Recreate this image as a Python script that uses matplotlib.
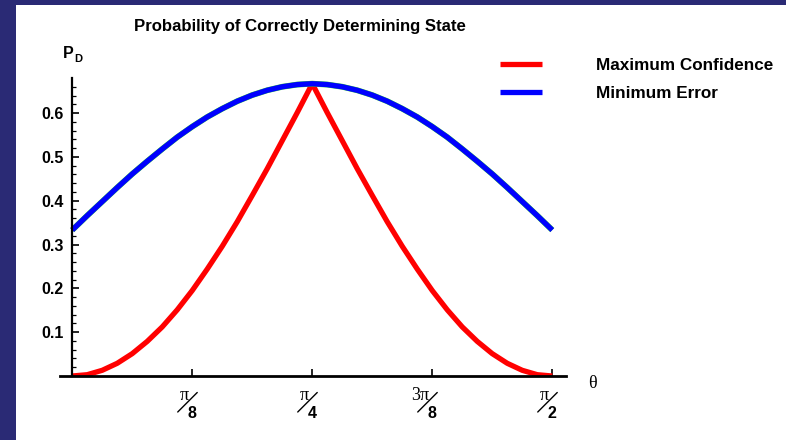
import numpy as np
import matplotlib
matplotlib.use("Agg")
import matplotlib.pyplot as plt
from matplotlib.patches import Rectangle
from matplotlib.transforms import ScaledTranslation

theta_steps = list(range(0, 33))
max_confidence = [0.0, 0.003, 0.013, 0.029, 0.051, 0.079, 0.112, 0.151, 0.195,
                  0.244, 0.296, 0.352, 0.412, 0.473, 0.537, 0.601, 0.667,
                  0.601, 0.537, 0.473, 0.412, 0.352, 0.296, 0.244, 0.195,
                  0.151, 0.112, 0.079, 0.051, 0.029, 0.013, 0.003, 0.0]
min_error = [0.333, 0.366, 0.398, 0.430, 0.461, 0.490, 0.518, 0.545, 0.569,
             0.591, 0.610, 0.627, 0.641, 0.652, 0.660, 0.665, 0.667,
             0.665, 0.660, 0.652, 0.641, 0.627, 0.610, 0.591, 0.569,
             0.545, 0.518, 0.490, 0.461, 0.430, 0.398, 0.366, 0.333]

tick_nums = ["\u03c0", "\u03c0", "3\u03c0", "\u03c0"]
tick_dens = ["8", "4", "8", "2"]
tick_pos = [np.pi / 8, np.pi / 4, 3 * np.pi / 8, np.pi / 2]

theta = np.array(theta_steps) * np.pi / 64

plt.rcParams["font.family"] = ["Liberation Sans", "DejaVu Sans"]

fig = plt.figure(figsize=(7.86, 4.40), dpi=100)
fig.patch.set_facecolor("#2a2a75")
fig.patches.append(Rectangle((16 / 786, 0), 1, 1 - 5 / 440, transform=fig.transFigure,
                             facecolor="white", edgecolor="none", zorder=-5))

ax = fig.add_axes([60 / 786, 1 - 376 / 440, 506 / 786, 298 / 440])
ax.set_facecolor("none")
ax.set_zorder(2)

ax.plot(theta, max_confidence, color="#ff0000", lw=3.8, solid_capstyle="butt",
        label="Maximum Confidence")
ax.plot(theta, min_error, color="#33cc33", lw=4.2, solid_capstyle="butt")
ax.plot(theta, min_error, color="#0000ff", lw=3.8, solid_capstyle="butt",
        label="Minimum Error")

ax.set_xlim(-0.040, np.pi / 2 + 0.045)
ax.set_ylim(0, 0.68)

for s in ["top", "right"]:
    ax.spines[s].set_visible(False)
ax.spines["left"].set_position(("data", 0))
ax.spines["left"].set_linewidth(1.6)
ax.spines["bottom"].set_linewidth(2.0)

ax.set_yticks([0.1, 0.2, 0.3, 0.4, 0.5, 0.6])
ax.set_yticks(np.arange(0.02, 0.68, 0.02), minor=True)
ax.set_yticklabels(["0.1", "0.2", "0.3", "0.4", "0.5", "0.6"], fontweight="bold", fontsize=11.5)
ax.tick_params(axis="y", which="major", direction="in", length=5, width=1.2, pad=6)
ax.tick_params(axis="y", which="minor", direction="in", length=3, width=0.9)

ax.set_xticks(tick_pos)
ax.set_xticklabels([])
ax.tick_params(axis="x", direction="in", length=5, width=1.2)

# slanted fraction tick labels
base = ax.get_xaxis_transform()
def shifted(dx, dy):
    return base + ScaledTranslation(dx, dy, fig.dpi_scale_trans)

for x, num, den in zip(tick_pos, tick_nums, tick_dens):
    ax.text(x, 0, num, transform=shifted(-0.03, -0.19), ha="right", va="center",
            fontsize=13, family="Liberation Serif", clip_on=False)
    ax.text(x, 0, den, transform=shifted(0.0, -0.38), ha="center", va="center",
            fontsize=11.5, fontweight="bold", clip_on=False)
    ax.annotate("", xy=(x, 0), xycoords=shifted(0.05, -0.165),
                xytext=(x, 0), textcoords=shifted(-0.145, -0.36),
                arrowprops=dict(arrowstyle="-", color="black", lw=1.0,
                                shrinkA=0, shrinkB=0))

fig.text(592 / 786, 1 - 383 / 440, "\u03b8", family="Liberation Serif", fontsize=13,
         ha="center", va="center")
fig.text(63 / 786, 1 - 54 / 440, "P", fontweight="bold", fontsize=11.5, ha="left", va="center")
fig.text(74.5 / 786, 1 - 58.5 / 440, "D", fontweight="bold", fontsize=8, ha="left", va="center")

fig.text(300 / 786, 1 - 26 / 440, "Probability of Correctly Determining State",
         fontweight="bold", fontsize=12.1, ha="center", va="center")

ax.legend(loc="upper left", bbox_to_anchor=(500 / 786, 1 - 58 / 440),
          bbox_transform=fig.transFigure, frameon=False, borderpad=0,
          borderaxespad=0, handlelength=2.46, handletextpad=3.16, labelspacing=0.75,
          prop=dict(weight="bold", size=12.3))

fig.savefig("out.png", dpi=100, facecolor=fig.get_facecolor())
